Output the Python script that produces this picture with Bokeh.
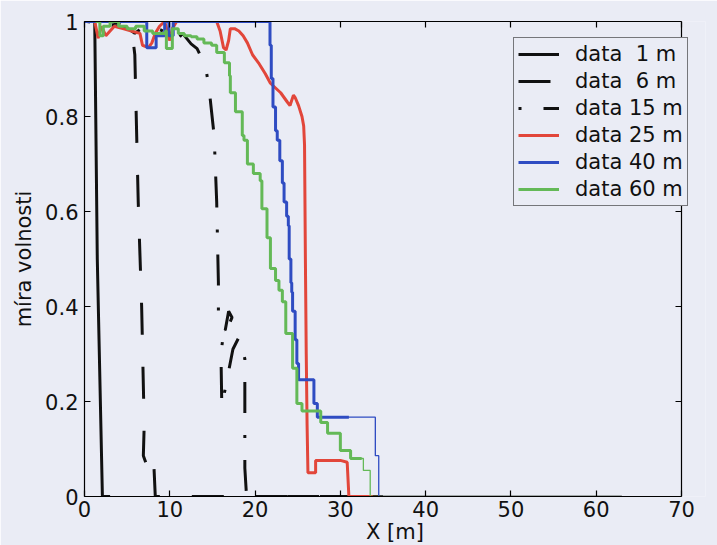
from bokeh.plotting import figure
from bokeh.models import (Range1d, LinearAxis, FixedTicker, Legend, LegendItem,
                          CustomJSTickFormatter)
from bokeh.embed import file_html
from bokeh.resources import INLINE

# ---------------- data ----------------
x_ticks = [0, 10, 20, 30, 40, 50, 60, 70]
y_ticks = [0, 0.2, 0.4, 0.6, 0.8, 1.0]
labels = ["data  1 m", "data  6 m", "data 15 m", "data 25 m", "data 40 m", "data 60 m"]

x_1m = [0.0, 1.2, 1.5, 2.1, 3.0]
y_1m = [1.0, 1.0, 0.5, 0.0, 0.0]

x_6m = [0.5, 3.0, 5.5, 5.9, 6.3, 6.7, 7.0, 6.9, 7.5, 8.1, 8.3, 35.0]
y_6m = [1.0, 1.0, 0.99, 0.93, 0.62, 0.40, 0.15, 0.086, 0.055, 0.08, 0.0, 0.0]

x_15m = [0.3, 2.0, 4.0, 5.1, 5.9, 7.0, 8.5, 10.0, 10.8, 11.5, 12.5, 13.2, 14.2, 14.6,
         15.2, 15.5, 15.7, 15.7, 16.5, 16.9, 17.3, 16.2, 16.0, 16.1, 17.4, 18.1, 18.8,
         18.8, 19.0, 35.0]
y_15m = [1.0, 0.995, 0.99, 0.985, 0.975, 0.99, 0.985, 0.975, 0.96, 0.975, 0.953, 0.943,
         0.905, 0.86, 0.76, 0.62, 0.45, 0.37, 0.35, 0.39, 0.377, 0.33, 0.30, 0.19, 0.31,
         0.335, 0.29, 0.06, 0.0, 0.0]

x_25m = [1.2, 1.6, 2.0, 2.5, 3.5, 4.5, 5.5, 6.5, 6.8, 7.5, 7.9, 8.3, 8.8, 9.4, 9.7,
         10.0, 10.3, 10.8, 15.5, 15.9, 16.3, 16.6, 16.9, 17.1, 17.6, 18.1, 18.6, 19.1,
         19.7, 20.4, 21.2, 21.8, 22.4, 23.0, 23.8, 24.1, 24.5, 24.7, 25.1, 25.5, 25.7,
         25.8, 25.9, 26.0, 26.1, 26.2, 27.1, 27.1, 30.0, 30.8, 31.0, 63.0]
y_25m = [1.0, 0.965, 0.99, 0.97, 0.99, 0.985, 0.98, 0.975, 0.95, 0.945, 0.955, 0.975,
         0.99, 1.0, 0.98, 0.96, 0.985, 1.0, 1.0, 0.98, 0.945, 0.94, 0.96, 0.985, 0.985,
         0.98, 0.97, 0.955, 0.93, 0.913, 0.89, 0.87, 0.86, 0.85, 0.83, 0.823, 0.845,
         0.84, 0.823, 0.80, 0.78, 0.74, 0.50, 0.30, 0.15, 0.05, 0.05, 0.076, 0.076,
         0.072, 0.0, 0.0]

x_40m = [0.0, 7.3, 8.4, 9.4, 9.9, 10.4, 21.7, 21.75, 21.9, 22.1, 22.4, 22.6, 22.9,
         23.2, 23.4, 23.7, 23.9, 24.0, 24.2, 24.3, 24.4, 24.7, 24.9, 25.1, 26.9, 27.3,
         34.1, 34.5, 63.0]
y_40m = [1.0, 0.945, 0.97, 1.0, 0.97, 1.0, 1.0, 0.95, 0.88, 0.82, 0.77, 0.75, 0.707,
         0.66, 0.62, 0.59, 0.57, 0.50, 0.45, 0.43, 0.39, 0.33, 0.28, 0.246, 0.196,
         0.167, 0.086, 0.0, 0.0]

x_60m = [1.3, 1.8, 2.2, 3.0, 4.0, 5.0, 6.0, 7.0, 8.0, 9.5, 9.6, 10.3, 10.8, 11.0,
         11.7, 12.5, 13.2, 14.0, 14.9, 15.5, 16.4, 17.0, 17.1, 17.7, 18.5, 18.7, 19.1,
         19.8, 20.6, 20.8, 21.4, 21.8, 22.4, 22.8, 23.2, 23.6, 24.4, 24.9, 25.5, 27.7,
         28.5, 30.0, 31.2, 32.7, 33.5, 63.0]
y_60m = [1.0, 0.97, 0.99, 1.0, 0.99, 0.985, 0.99, 0.98, 0.975, 0.98, 0.943, 0.985,
         0.985, 0.975, 0.97, 0.968, 0.963, 0.955, 0.95, 0.935, 0.913, 0.886, 0.85, 0.81,
         0.76, 0.75, 0.70, 0.68, 0.665, 0.606, 0.545, 0.48, 0.455, 0.434, 0.41, 0.343,
         0.27, 0.196, 0.18, 0.156, 0.133, 0.097, 0.08, 0.055, 0.0, 0.0]

# ---------------- style / layout ----------------
BG = "#eaecf5"
FONT = "DejaVu Sans"
BLACK = "#111111"
RED = "#e2463a"
BLUE = "#2f4cc2"
GREEN = "#64b957"
LW = 3

AX_W = 597          # pixel width of the 0..70 axes box
FRAME_W = 621       # frame extended to the right so the legend may overhang the box
X_END = x_ticks[-1] * FRAME_W / AX_W


def thick_part(xs, ys, cut):
    idx = [i for i, x in enumerate(xs) if x < cut]
    return [xs[i] for i in idx] + [cut], [ys[i] for i in idx] + [ys[idx[-1]]]


p = figure(frame_width=FRAME_W, frame_height=475,
           x_range=Range1d(0, X_END), y_range=Range1d(0, 1),
           output_backend="svg", toolbar_location=None,
           min_border_left=84, min_border_right=12, min_border_top=21,
           min_border_bottom=49,
           background_fill_color=BG, border_fill_color=BG)
p.grid.visible = False
p.outline_line_color = None

xt = FixedTicker(ticks=x_ticks)
yt = FixedTicker(ticks=y_ticks)
yfmt = CustomJSTickFormatter(code="return String(Math.round(tick*10)/10);")
blank = CustomJSTickFormatter(code="return '';")

for ax in (p.xaxis[0], p.yaxis[0]):
    ax.axis_line_color = "black"
    ax.axis_line_width = 1.2
    ax.major_tick_in = 6
    ax.major_tick_out = 0
    ax.major_tick_line_width = 1.2
    ax.minor_tick_line_color = None
    ax.major_label_text_font = FONT
    ax.major_label_text_font_size = "21px"
    ax.major_label_text_color = "#111111"
    ax.axis_label_text_font = FONT
    ax.axis_label_text_font_size = "21px"
    ax.axis_label_text_font_style = "normal"
    ax.axis_label_text_color = "#111111"

p.xaxis[0].ticker = xt
p.xaxis[0].bounds = (x_ticks[0], x_ticks[-1])
p.yaxis[0].ticker = yt
p.yaxis[0].formatter = yfmt
p.xaxis[0].axis_label = "X [m]"
p.yaxis[0].axis_label = "míra volnosti"
p.xaxis[0].major_label_standoff = 4
p.yaxis[0].major_label_standoff = 6
p.xaxis[0].axis_label_standoff = 0
p.yaxis[0].axis_label_standoff = 6

top_ax = LinearAxis(ticker=xt, formatter=blank, bounds=(x_ticks[0], x_ticks[-1]),
                    major_label_text_color=None,
                    major_tick_in=6, major_tick_out=0, minor_tick_line_color=None,
                    axis_line_color="black", axis_line_width=1.2,
                    major_tick_line_width=1.2, major_label_standoff=0)
p.add_layout(top_ax, "above")

right_ax = LinearAxis(ticker=yt, formatter=blank, fixed_location=x_ticks[-1],
                      major_label_text_color=None,
                      major_tick_in=6, major_tick_out=0, minor_tick_line_color=None,
                      axis_line_color="black", axis_line_width=1.2,
                      major_tick_line_width=1.2, major_label_standoff=0)
p.add_layout(right_ax, "right")

r1 = p.line(x_1m, y_1m, line_color=BLACK, line_width=LW)
r6 = p.line(x_6m, y_6m, line_color=BLACK, line_width=LW, line_dash="32 32")
r15 = p.line(x_15m, y_15m, line_color=BLACK, line_width=LW, line_dash="3 22 31 22")

# red
p.line(x_25m, y_25m, line_color=RED, line_width=1.3)
rx, ry = thick_part(x_25m, y_25m, 33.8)
r25 = p.line(rx, ry, line_color=RED, line_width=LW)

# blue
p.step(x_40m, y_40m, mode="after", line_color=BLUE, line_width=1.3)
bx, by = thick_part(x_40m, y_40m, 31.0)
r40 = p.step(bx, by, mode="after", line_color=BLUE, line_width=LW)

# green
p.step(x_60m, y_60m, mode="after", line_color=GREEN, line_width=1.3)
gx, gy = thick_part(x_60m, y_60m, 32.5)
r60 = p.step(gx, gy, mode="after", line_color=GREEN, line_width=LW)

legend = Legend(items=[LegendItem(label=l, renderers=[r])
                       for l, r in zip(labels, [r1, r6, r15, r25, r40, r60])],
                location=(429, 290))
legend.border_line_color = "black"
legend.border_line_width = 1.2
legend.background_fill_color = BG
legend.background_fill_alpha = 1.0
legend.label_text_font = FONT
legend.label_text_font_size = "21px"
legend.label_text_color = "#111111"
legend.glyph_width = 41
legend.glyph_height = 24
legend.label_standoff = 16
legend.padding = 4
legend.spacing = 3
legend.margin = 0
p.add_layout(legend)

open("out.html", "w").write(file_html(p, INLINE))
